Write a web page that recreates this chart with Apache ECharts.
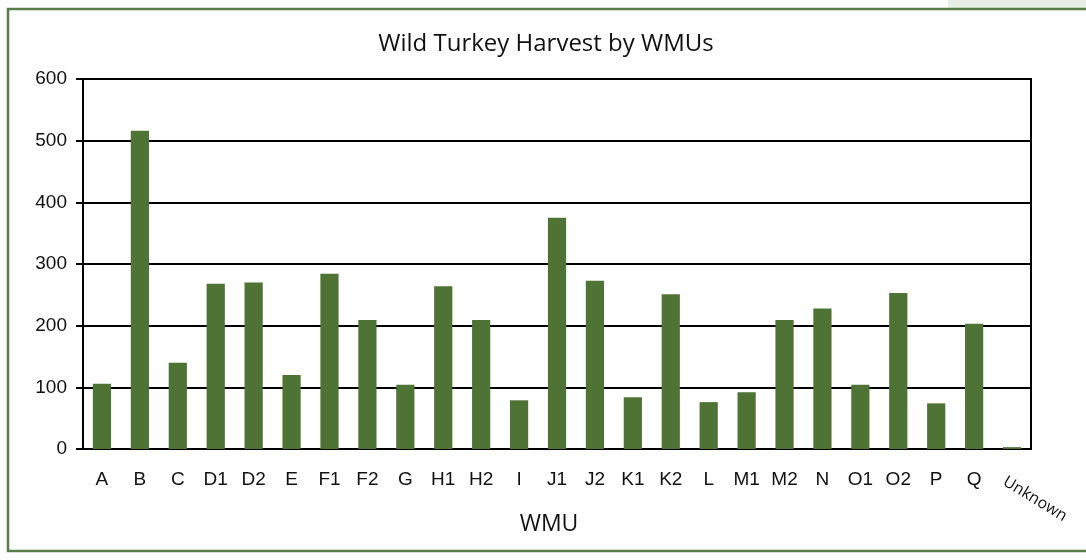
<!DOCTYPE html>
<html>
<head>
<meta charset="utf-8">
<title>Wild Turkey Harvest by WMUs</title>
<script src="https://cdn.jsdelivr.net/npm/echarts@6/dist/echarts.min.js"></script>
<style>
  html, body { margin: 0; padding: 0; background: #fff; }
  #chart { width: 1086px; height: 560px; }
</style>
</head>
<body>
<div id="chart"></div>
<script>
// WMU categories and harvest counts
const wmus = ['A', 'B', 'C', 'D1', 'D2', 'E', 'F1', 'F2', 'G', 'H1', 'H2', 'I', 'J1',
  'J2', 'K1', 'K2', 'L', 'M1', 'M2', 'N', 'O1', 'O2', 'P', 'Q', 'Unknown']
const harvest = [106, 516, 140, 268, 270, 120, 284, 209, 104, 264, 209, 79, 375,
  273, 84, 251, 76, 92, 209, 228, 104, 253, 74, 203, 3]
const yTicks = [0, 100, 200, 300, 400, 500, 600]

const chart = echarts.init(document.getElementById('chart'))

const option = {
  animation: false,
  backgroundColor: '#fff',
  title: {
    text: 'Wild Turkey Harvest by WMUs',
    left: 541,
    top: 27,
    textAlign: 'center',
    textStyle: {
      fontFamily: 'Open Sans',
      fontWeight: 'normal',
      fontSize: 24,
      color: '#111'
    }
  },
  grid: {
    left: 83,
    right: 55,
    top: 79,
    bottom: 111,
    show: true,
    borderColor: '#000',
    borderWidth: 2
  },
  xAxis: {
    type: 'category',
    data: wmus,
    name: 'WMU',
    nameLocation: 'middle',
    nameGap: 64,
    nameTextStyle: {
      fontFamily: 'Open Sans',
      fontSize: 23,
      color: '#111',
      padding: [0, 16, 0, 0]
    },
    axisLine: { lineStyle: { color: '#000', width: 2 } },
    axisTick: { length: 7, lineStyle: { color: '#000', width: 2 } },
    axisLabel: {
      margin: 21,
      fontFamily: 'Liberation Sans',
      fontSize: 19,
      color: '#111',
      interval: 0,
      // the last one is drawn slanted below
      formatter: v => (v === 'Unknown' ? '' : v)
    }
  },
  yAxis: {
    type: 'value',
    min: yTicks[0],
    max: yTicks[yTicks.length - 1],
    interval: 100,
    axisLine: { show: true, lineStyle: { color: '#000', width: 2 } },
    axisTick: { show: true, length: 7, lineStyle: { color: '#000', width: 2 } },
    axisLabel: {
      margin: 16,
      fontFamily: 'Liberation Sans',
      fontSize: 19,
      color: '#111'
    },
    splitLine: { lineStyle: { color: '#000', width: 2 } }
  },
  series: [
    {
      type: 'bar',
      data: harvest,
      barWidth: '48%',
      itemStyle: { color: '#4e7335' }
    }
  ],
  graphic: [
    // light grey strip at top right
    {
      type: 'rect',
      shape: { x: 948, y: 0, width: 140, height: 8 },
      style: { fill: '#e9eee7' },
      silent: true
    },
    // green frame round the chart
    {
      type: 'rect',
      shape: { x: 8, y: 9, width: 1090, height: 542 },
      style: { fill: 'none', stroke: '#587c43', lineWidth: 2.5 },
      silent: true
    },
    // slanted label of the last category
    {
      type: 'text',
      x: 1035,
      y: 499,
      rotation: -0.55,
      style: {
        text: wmus[wmus.length - 1],
        fontFamily: 'Open Sans',
        fontSize: 16,
        fill: '#111',
        align: 'center',
        verticalAlign: 'middle'
      },
      silent: true
    }
  ]
}

chart.setOption(option)
</script>
</body>
</html>
